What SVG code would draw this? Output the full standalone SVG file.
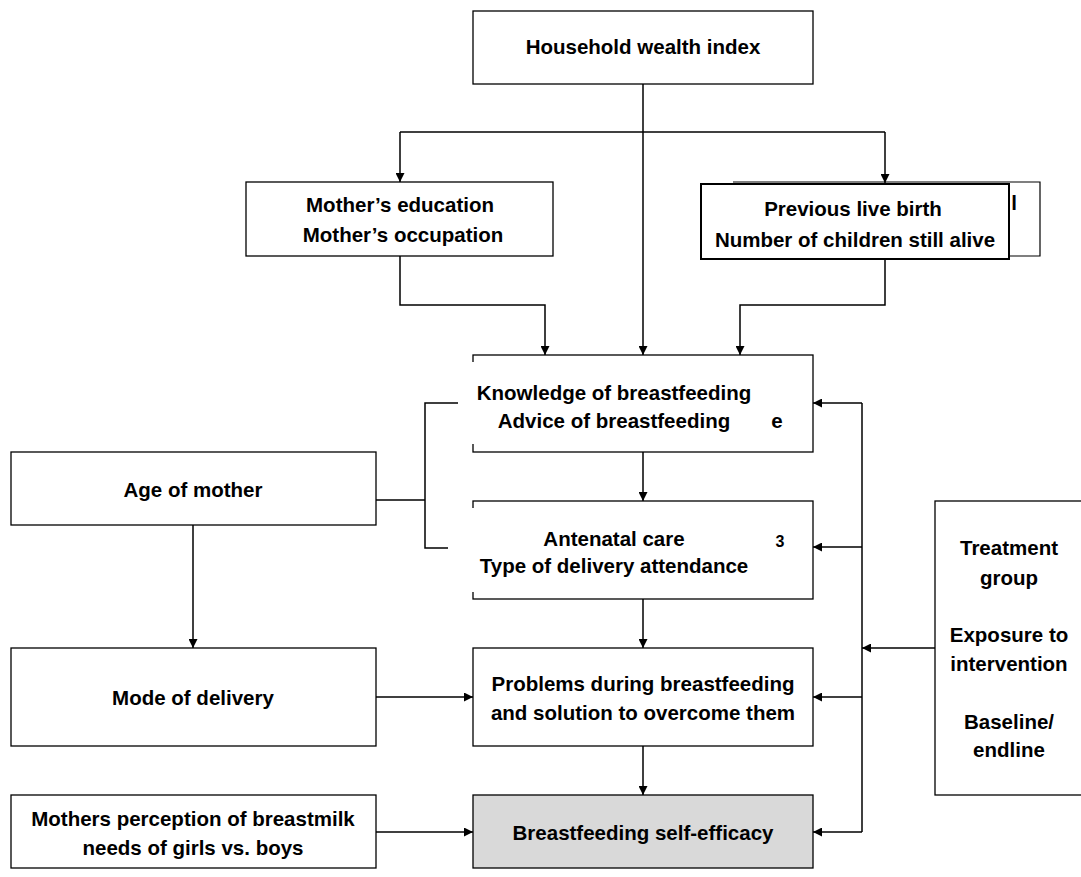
<svg xmlns="http://www.w3.org/2000/svg" width="1081" height="877" viewBox="0 0 1081 877">
<defs>
<marker id="ah" viewBox="0 0 10 10" refX="10" refY="5" markerWidth="9" markerHeight="9" markerUnits="userSpaceOnUse" orient="auto">
<path d="M0,0 L10,5 L0,10 Z" fill="#000"/>
</marker>
<style>
.box{fill:#fff;stroke:#000;stroke-width:1.3}
.t{font-family:"Liberation Sans",Arial,sans-serif;font-weight:bold;font-size:20.5px;fill:#000;text-anchor:middle}
.c{fill:none;stroke:#000;stroke-width:1.5}
</style>
</defs>
<rect width="1081" height="877" fill="#fff"/>

<g id="connectors">
<path class="c" d="M643,84 V355" marker-end="url(#ah)"/>
<path class="c" d="M400,132 H885"/>
<path class="c" d="M400,132 V182" marker-end="url(#ah)"/>
<path class="c" d="M885,132 V183" marker-end="url(#ah)"/>
<path class="c" d="M400,256 V305 H545 V355" marker-end="url(#ah)"/>
<path class="c" d="M885,259 V305 H740 V355" marker-end="url(#ah)"/>
<path class="c" d="M643,452 V501" marker-end="url(#ah)"/>
<path class="c" d="M643,599 V648" marker-end="url(#ah)"/>
<path class="c" d="M643,746 V795" marker-end="url(#ah)"/>
<path class="c" d="M376,500 H425"/>
<path class="c" d="M458,403 H425 V548 H448"/>
<path class="c" d="M193,525 V648" marker-end="url(#ah)"/>
<path class="c" d="M376,697 H473" marker-end="url(#ah)"/>
<path class="c" d="M376,832 H473" marker-end="url(#ah)"/>
<path class="c" d="M935,648 H862" marker-end="url(#ah)"/>
<path class="c" d="M862,403 V832"/>
<path class="c" d="M862,403 H813" marker-end="url(#ah)"/>
<path class="c" d="M862,547 H813" marker-end="url(#ah)"/>
<path class="c" d="M862,697 H813" marker-end="url(#ah)"/>
<path class="c" d="M862,832 H813" marker-end="url(#ah)"/>
</g>

<g id="household">
<rect class="box" x="473" y="11" width="340" height="73"/>
<text class="t" x="643" y="54">Household wealth index</text>
</g>

<g id="education">
<rect class="box" x="246" y="182" width="307" height="74"/>
<text class="t" x="400" y="212">Mother’s education</text>
<text class="t" x="403" y="242">Mother’s occupation</text>
</g>

<g id="birth">
<path class="c" d="M733,182 H1040 V256 H1009" style="stroke-width:1.2"/>
<text class="t" x="1014" y="210">l</text>
<rect class="box" x="701" y="184" width="308" height="75" style="stroke-width:2"/>
<text class="t" x="853" y="216">Previous live birth</text>
<text class="t" x="855" y="247">Number of children still alive</text>
</g>

<g id="knowledge">
<rect class="box" x="473" y="355" width="340" height="97"/>
<rect x="460" y="362" width="320" height="82" fill="#fff"/>
<text class="t" x="777" y="428">e</text>
<text class="t" x="614" y="400">Knowledge of breastfeeding</text>
<text class="t" x="614" y="428">Advice of breastfeeding</text>
</g>

<g id="antenatal">
<rect class="box" x="473" y="501" width="340" height="98"/>
<rect x="450" y="508" width="325" height="84" fill="#fff"/>
<text class="t" x="780" y="547" style="font-size:16px">3</text>
<text class="t" x="614" y="546">Antenatal care</text>
<text class="t" x="614" y="573">Type of delivery attendance</text>
</g>

<g id="problems">
<rect class="box" x="473" y="648" width="340" height="98"/>
<text class="t" x="643" y="691">Problems during breastfeeding</text>
<text class="t" x="643" y="720">and solution to overcome them</text>
</g>

<g id="efficacy">
<rect class="box" x="473" y="795" width="340" height="73" style="fill:#d9d9d9"/>
<text class="t" x="643" y="840">Breastfeeding self-efficacy</text>
</g>

<g id="age">
<rect class="box" x="11" y="452" width="365" height="73"/>
<text class="t" x="193" y="497">Age of mother</text>
</g>

<g id="mode">
<rect class="box" x="11" y="648" width="365" height="98"/>
<text class="t" x="193" y="705">Mode of delivery</text>
</g>

<g id="perception">
<rect class="box" x="11" y="795" width="365" height="73"/>
<text class="t" x="193" y="826">Mothers perception of breastmilk</text>
<text class="t" x="193" y="855">needs of girls vs. boys</text>
</g>

<g id="treatment">
<rect class="box" x="935" y="501" width="160" height="294"/>
<text class="t" x="1009" y="555">Treatment</text>
<text class="t" x="1009" y="585">group</text>
<text class="t" x="1009" y="642">Exposure to</text>
<text class="t" x="1009" y="671">intervention</text>
<text class="t" x="1009" y="729">Baseline/</text>
<text class="t" x="1009" y="757">endline</text>
</g>
</svg>
